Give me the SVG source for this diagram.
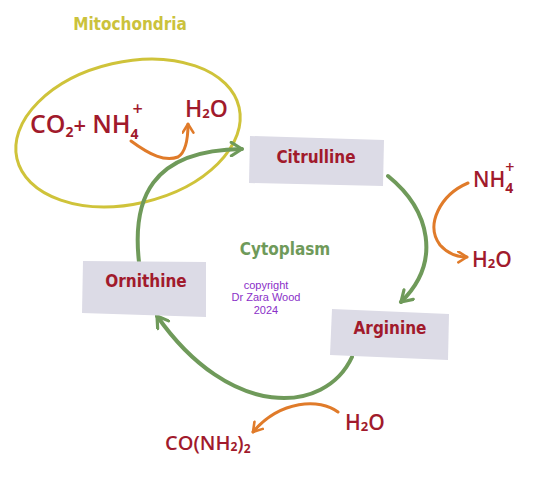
<svg xmlns="http://www.w3.org/2000/svg" width="537" height="480" viewBox="0 0 537 480">
<style>
.box{fill:#dcdbe6}
.bl{font-family:"DejaVu Sans Condensed","DejaVu Sans",sans-serif;font-weight:bold;font-size:17px;fill:#a11a2c;text-anchor:middle}
.chem{font-family:"Open Sans","Noto Sans",sans-serif;font-weight:600;fill:#a11a2c}
.sub{font-weight:bold}
.g{fill:none;stroke:#6f9a5a;stroke-width:4;stroke-linecap:round}
.o{fill:none;stroke:#e07b2a;stroke-width:3;stroke-linecap:round}
.hdr{font-family:"DejaVu Sans Condensed","DejaVu Sans",sans-serif;font-weight:bold;font-size:17px}
.cp{font-family:"Liberation Sans",Arial,sans-serif;font-size:11px;fill:#8a2fc8;text-anchor:middle}
</style>
<defs>
<marker id="ga" viewBox="0 0 12 12" refX="10" refY="6" markerWidth="16" markerHeight="16" orient="auto" markerUnits="userSpaceOnUse"><path d="M2,1 L10,6 L2,11" fill="none" stroke="#6f9a5a" stroke-width="2.4" stroke-linecap="round" stroke-linejoin="round"/></marker>
<marker id="oa" viewBox="0 0 12 12" refX="10" refY="6" markerWidth="13" markerHeight="13" orient="auto" markerUnits="userSpaceOnUse"><path d="M2,1 L10,6 L2,11" fill="none" stroke="#e07b2a" stroke-width="2.4" stroke-linecap="round" stroke-linejoin="round"/></marker>
</defs>
<rect width="537" height="480" fill="#ffffff"/>
<g id="mitochondria">
<ellipse cx="128" cy="133" rx="114" ry="71" transform="rotate(-13 128 133)" fill="none" stroke="#cfc33a" stroke-width="3"/>
<text class="hdr" x="130" y="30" text-anchor="middle" fill="#cbc23c">Mitochondria</text>
</g>
<g id="cytoplasm-label"><text class="hdr" x="285" y="255" text-anchor="middle" fill="#6f9a5a">Cytoplasm</text></g>
<g id="copyright">
<text class="cp" x="266" y="289">copyright</text>
<text class="cp" x="266" y="301">Dr Zara Wood</text>
<text class="cp" x="266" y="314">2024</text>
</g>
<g id="connectors">
<path class="g" d="M139,262 C132,200 150,150 242,149" marker-end="url(#ga)"/>
<path class="g" d="M388,176 C430,210 442,262 401,302" marker-end="url(#ga)"/>
<path class="g" d="M352,357 C325,415 230,420 157,316" marker-end="url(#ga)"/>
<path class="o" d="M131,141 C150,155 165,162 178,157 C186,152 188,140 188,124" marker-end="url(#oa)"/>
<path class="o" d="M468,183 C440,195 425,225 440,245 C448,254 458,257 467,257" marker-end="url(#oa)"/>
<path class="o" d="M338,412 C320,398 280,400 253,432" marker-end="url(#oa)"/>
</g>
<g id="citrulline">
<polygon class="box" points="250,136 384,140 383,186 249,183"/>
<text class="bl" x="316" y="163">Citrulline</text>
</g>
<g id="ornithine">
<polygon class="box" points="83,261 206,262 206,317 82,313"/>
<text class="bl" x="146" y="287">Ornithine</text>
</g>
<g id="arginine">
<polygon class="box" points="332,309 449,314 448,360 330,355"/>
<text class="bl" x="390" y="334">Arginine</text>
</g>
<g id="co2-nh4">
<text class="chem" x="30" y="133" font-size="25">CO<tspan class="sub" font-size="14" dy="4">2</tspan><tspan dy="-4" font-size="22">+</tspan><tspan dx="6">NH</tspan><tspan class="sub" font-size="14" dy="6">4</tspan><tspan font-size="18" dx="-6" dy="-24">+</tspan></text>
</g>
<g id="h2o-mito"><text class="chem" x="185" y="117" font-size="23">H<tspan class="sub" font-size="13" dy="1">2</tspan><tspan dy="-1">O</tspan></text></g>
<g id="nh4-right"><text class="chem" x="473" y="187" font-size="21">NH<tspan class="sub" font-size="14" dy="6">4</tspan><tspan font-size="16" dx="-8" dy="-20">+</tspan></text></g>
<g id="h2o-right"><text class="chem" x="472" y="267" font-size="21">H<tspan class="sub" font-size="13" dy="1">2</tspan><tspan dy="-1">O</tspan></text></g>
<g id="h2o-bottom"><text class="chem" x="345" y="430" font-size="21">H<tspan class="sub" font-size="13" dy="1">2</tspan><tspan dy="-1">O</tspan></text></g>
<g id="urea"><text class="chem" x="165" y="450" font-size="20">CO(NH<tspan class="sub" font-size="12" dy="1">2</tspan><tspan dy="-1">)</tspan><tspan class="sub" font-size="12" dy="3">2</tspan></text></g>
</svg>
